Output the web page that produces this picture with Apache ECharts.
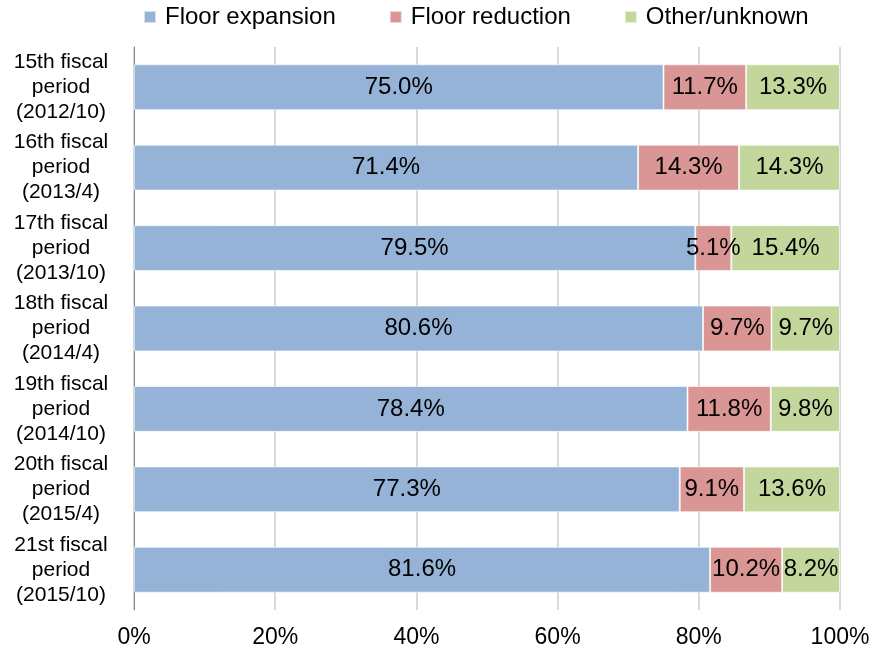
<!DOCTYPE html>
<html><head><meta charset="utf-8">
<script src="https://cdn.jsdelivr.net/npm/echarts@6/dist/echarts.min.js"></script>
<style>html,body{margin:0;padding:0;background:#fff}#c{width:873px;height:650px}</style>
</head><body><div id="c"></div>
<script>
var categories = ["15th fiscal\nperiod\n(2012/10)","16th fiscal\nperiod\n(2013/4)","17th fiscal\nperiod\n(2013/10)","18th fiscal\nperiod\n(2014/4)","19th fiscal\nperiod\n(2014/10)","20th fiscal\nperiod\n(2015/4)","21st fiscal\nperiod\n(2015/10)"];
var floorExpansion = [75.0, 71.4, 79.5, 80.6, 78.4, 77.3, 81.6];
var floorReduction = [11.7, 14.3, 5.1, 9.7, 11.8, 9.1, 10.2];
var otherUnknown = [13.3, 14.3, 15.4, 9.7, 9.8, 13.6, 8.2];
var seriesNames = ["Floor expansion","Floor reduction","Other/unknown"];
var colors = ["#95b3d7","#d99694","#c3d69b"];
var font = "'Liberation Sans', Arial, sans-serif";
function mk(name, data, color){
  return {name:name,type:'bar',stack:'t',data:data,barWidth:'57%',
    itemStyle:{color:color,borderColor:'rgba(255,255,255,0.6)',borderWidth:1},
    label:{show:true,position:'inside',formatter:function(p){return p.value.toFixed(1)+'%';},
      color:'#000',fontSize:24,fontFamily:font},
    emphasis:{disabled:true}};
}
var chart = echarts.init(document.getElementById('c'));
chart.setOption({
  animation:false,
  legend:{top:5,left:143,padding:0,itemWidth:12,itemHeight:12,itemGap:53,icon:'rect',
    textStyle:{fontSize:24,fontFamily:font,color:'#000',padding:[0,0,0,4]},data:seriesNames},
  grid:{left:134,right:33,top:47,bottom:40,containLabel:false},
  xAxis:{type:'value',min:0,max:100,interval:20,
    axisLabel:{formatter:'{value}%',fontSize:23,fontFamily:font,color:'#000',margin:16},
    axisLine:{show:false},axisTick:{show:false},
    splitLine:{show:true,lineStyle:{color:'#d9d9d9',width:2}}},
  yAxis:{type:'category',inverse:true,data:categories,
    axisLine:{show:true,lineStyle:{color:'#868686',width:1}},
    axisTick:{show:false},
    axisLabel:{fontSize:21,fontFamily:font,color:'#000',lineHeight:25,align:'center',margin:73}},
  series:[mk(seriesNames[0],floorExpansion,colors[0]),mk(seriesNames[1],floorReduction,colors[1]),mk(seriesNames[2],otherUnknown,colors[2])]
});
</script></body></html>
